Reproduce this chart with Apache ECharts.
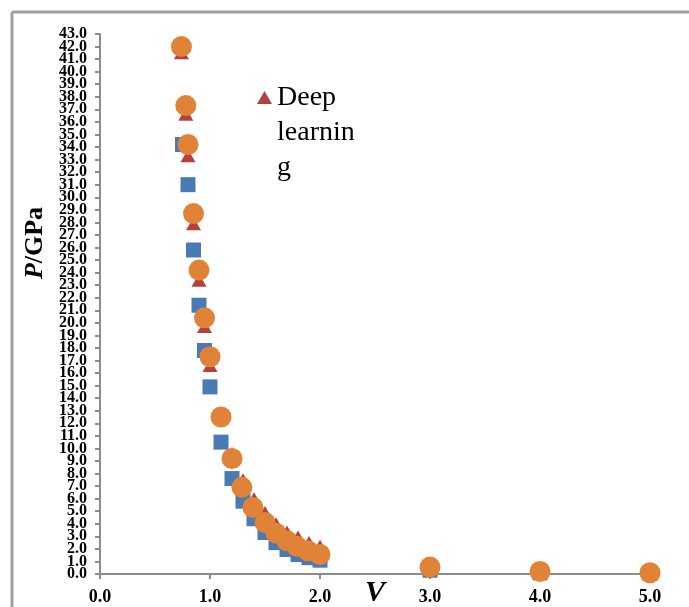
<!DOCTYPE html>
<html>
<head>
    <meta charset="UTF-8">
    <title>P-V</title>
    <script src="https://cdn.jsdelivr.net/npm/echarts@6.0.0/dist/echarts.min.js"></script>
    <style>
        html, body { margin: 0; padding: 0; background: #fff; }
    </style>
</head>
<body>
<div id="main" style="width: 689px;height:607px;"></div>
<script type="text/javascript">
    // 数据：三组 P-V 点
    var vSquare = [0.75, 0.80, 0.85, 0.90, 0.95, 1.00, 1.10, 1.20, 1.30, 1.40, 1.50, 1.60, 1.70, 1.80, 1.90, 2.00, 3.00, 4.00, 5.00];
    var pSquare = [34.2, 31.0, 25.8, 21.4, 17.8, 14.9, 10.5, 7.6, 5.8, 4.4, 3.3, 2.5, 1.95, 1.55, 1.3, 1.1, 0.3, 0.1, 0.05];

    var vTri = [0.74, 0.78, 0.80, 0.85, 0.90, 0.95, 1.00, 1.10, 1.20, 1.30, 1.40, 1.50, 1.60, 1.70, 1.80, 1.90, 2.00, 3.00, 4.00, 5.00];
    var pTri = [41.5, 36.6, 33.3, 27.9, 23.4, 19.7, 16.6, 12.6, 9.6, 7.5, 6.0, 4.9, 4.0, 3.35, 2.95, 2.5, 2.2, 0.8, 0.3, 0.15];

    var vCircle = [0.74, 0.78, 0.80, 0.85, 0.90, 0.95, 1.00, 1.10, 1.20, 1.29, 1.39, 1.50, 1.60, 1.70, 1.79, 1.89, 2.00, 3.00, 4.00, 5.00];
    var pCircle = [42.0, 37.3, 34.2, 28.7, 24.2, 20.4, 17.3, 12.5, 9.2, 6.9, 5.3, 4.1, 3.25, 2.65, 2.2, 1.85, 1.55, 0.55, 0.2, 0.1];

    var pMin = 0, pMax = 43;

    function pairs(xs, ys) {
        var list = [];
        for (var i = 0; i < xs.length; i++) {
            list.push([xs[i], ys[i]]);
        }
        return list;
    }

    var myChart = echarts.init(document.getElementById('main'));
    var serif = 'Liberation Serif';

    var yLabel = {
        margin: 13,
        fontFamily: serif,
        fontSize: 16,
        lineHeight: 10,
        fontWeight: 'bold',
        color: '#000',
        formatter: function (v) { return v.toFixed(1); }
    };
    var axisGray = { color: '#8c8c8c', width: 2 };

    var option = {
        backgroundColor: '#ffffff',
        animation: false,
        grid: {
            left: 100,
            top: 34,
            width: 550,
            height: 540,
            outerBoundsMode: 'none',
            containLabel: false
        },
        legend: {
            data: ['Deep learning'],
            left: 257,
            top: 10,
            padding: 0,
            itemWidth: 15,
            itemHeight: 13,
            icon: 'triangle',
            // 前面两行空行，使 "Deep" 与图标对齐
            formatter: function () { return ' \n \nDeep\nlearnin\ng'; },
            textStyle: {
                fontFamily: serif,
                fontSize: 28,
                lineHeight: 35,
                color: '#000'
            }
        },
        xAxis: {
            type: 'value',
            min: 0,
            max: 5,
            interval: 1,
            name: 'V',
            nameLocation: 'middle',
            nameGap: 4,
            nameMoveOverlap: false,
            nameTextStyle: {
                fontFamily: serif,
                fontSize: 30,
                fontWeight: 'bold',
                fontStyle: 'italic',
                color: '#000'
            },
            axisLine: { lineStyle: axisGray },
            axisTick: { show: true, length: 5, lineStyle: axisGray },
            splitLine: { show: false },
            axisLabel: {
                margin: 14,
                fontFamily: serif,
                fontSize: 18,
                fontWeight: 'bold',
                color: '#000',
                formatter: function (v) { return v.toFixed(1); }
            }
        },
        yAxis: [
            {
                // 1.0 ~ 42.0 的刻度
                type: 'value',
                position: 'left',
                min: pMin,
                max: pMax,
                interval: 1,
                name: '{i|P}{b|/GPa}',
                nameLocation: 'middle',
                nameRotate: 90,
                nameGap: 52,
                nameMoveOverlap: false,
                nameTextStyle: {
                    padding: [0, 0, 0, 122],
                    rich: {
                        i: { fontFamily: serif, fontSize: 26, fontWeight: 'bold', fontStyle: 'italic', color: '#000' },
                        b: { fontFamily: serif, fontSize: 26, fontWeight: 'bold', color: '#000' }
                    }
                },
                axisLine: { show: true, lineStyle: axisGray },
                axisTick: { show: true, length: 5, lineStyle: axisGray },
                splitLine: { show: false },
                axisLabel: Object.assign({ showMinLabel: false, showMaxLabel: false }, yLabel)
            },
            {
                // 只画 0.0 和 43.0 两端
                type: 'value',
                position: 'left',
                offset: 0,
                min: pMin,
                max: pMax,
                interval: pMax - pMin,
                axisLine: { show: false },
                axisTick: { show: true, length: 5, lineStyle: axisGray },
                splitLine: { show: false },
                axisLabel: yLabel
            }
        ],
        graphic: [
            { type: 'line', shape: { x1: 12, y1: 12, x2: 689, y2: 12 }, style: { stroke: '#a0a0a0', lineWidth: 3 } },
            { type: 'line', shape: { x1: 12, y1: 12, x2: 12, y2: 607 }, style: { stroke: '#a0a0a0', lineWidth: 3 } }
        ],
        series: [
            {
                name: 'Experiment',
                type: 'scatter',
                symbol: 'rect',
                symbolSize: 15,
                itemStyle: { color: '#4a7ab6', opacity: 1 },
                data: pairs(vSquare, pSquare)
            },
            {
                name: 'Deep learning',
                type: 'scatter',
                symbol: 'triangle',
                symbolSize: [15, 13],
                itemStyle: { color: '#b5413f', opacity: 1 },
                data: pairs(vTri, pTri)
            },
            {
                name: 'Fitting',
                type: 'scatter',
                symbol: 'circle',
                symbolSize: 21,
                itemStyle: { color: '#e08336', opacity: 1 },
                data: pairs(vCircle, pCircle)
            }
        ]
    };

    myChart.setOption(option);
</script>
</body>
</html>
